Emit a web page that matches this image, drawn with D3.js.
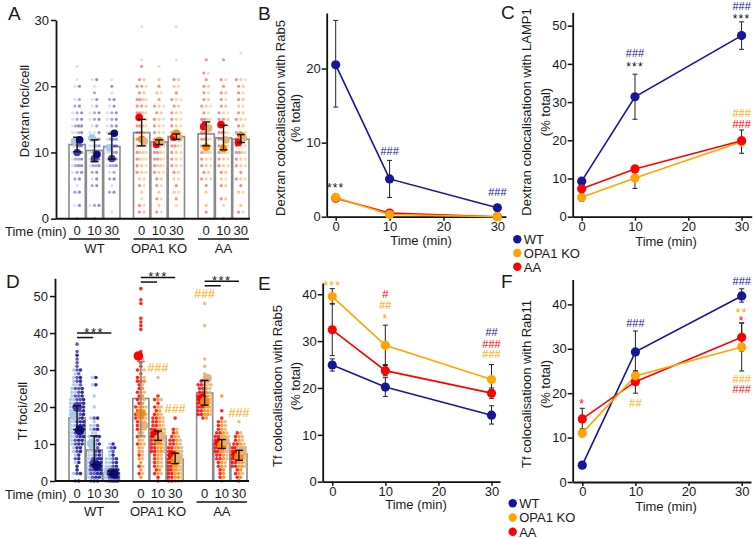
<!DOCTYPE html>
<html>
<head>
<meta charset="utf-8">
<script src="https://cdn.jsdelivr.net/npm/d3@7"></script>
<style>
  body { margin: 0; background: #fff; }
  text { font-family: "Liberation Sans", Arial, Helvetica, sans-serif; fill: #1a1a1a; }
</style>
</head>
<body>
<svg id="fig" width="753" height="538"></svg>
<script>

// ---------- data ----------

var times = [0, 10, 30],
    groups = ["WT", "OPA1 KO", "AA"];

// Panel A: dextran foci per cell, 3 replicates per condition
// WT replicates: light blue, indigo, navy.  OPA1 KO / AA: red, orange, tan
var dexWT0  = [[23,21,20,18,16,15,14,13,13,12,12,11,11,10,10,9,8,7,5,2],
               [18,17,16,15,14,13,12,12,11,10,10,10,9,9,8,7,6,4,0],
               [20,17,16,15,14,14,13,12,12,11,11,10,9,8,8,7,6,4,2]];
var dexWT10 = [[21,20,18,17,16,15,14,13,13,12,12,11,11,10,10,9,8,6,2],
               [19,17,16,15,14,12,11,10,10,9,9,8,8,7,5,2,0],
               [21,18,16,15,13,12,11,10,10,9,9,8,7,6,5,2]];
var dexWT30 = [[21,19,17,16,15,14,13,12,11,11,10,10,9,8,7,5,1],
               [18,16,15,14,13,12,11,10,9,9,8,8,7,6,4],
               [20,18,17,16,15,14,13,13,12,12,11,11,10,9,8,6,4]];
var dexKO0  = [[23,21,20,20,19,18,18,17,17,16,16,15,15,14,14,13,13,12,12,11,10,9,8,7,5,2,1],
               [21,19,18,17,16,15,14,13,12,12,11,11,10,10,9,8,7,6,4,1],
               [29,24,20,18,16,14,13,12,11,10,9,9,8,7,6,5,3,2]];
var dexKO10 = [[20,18,17,16,15,14,13,12,12,11,11,10,10,9,9,8,7,6,5,3,1],
               [21,19,17,16,15,14,13,12,11,10,9,8,8,7,6,4,2],
               [23,19,17,15,14,13,12,11,10,9,8,7,5,3,1]];
var dexKO30 = [[21,19,18,17,16,15,14,13,12,12,11,11,10,9,8,7,5,3],
               [21,20,18,17,16,15,14,13,13,12,11,10,9,8,7,6,4],
               [29,24,20,18,16,15,14,13,12,11,10,9,8,6,4,2]];
var dexAA0  = [[24,22,21,20,19,18,17,16,15,15,14,14,13,13,12,12,11,10,9,8,7,6,5,1],
               [20,18,17,15,14,13,12,11,10,10,9,8,7,6,4,2],
               [22,19,17,16,15,14,13,12,11,10,9,8,6]];
var dexAA10 = [[24,21,20,19,18,17,16,15,15,14,14,13,13,12,12,11,11,10,9,8,7,5,3,0],
               [19,17,16,15,13,12,11,10,10,9,8,7,6,5,3],
               [21,18,16,14,13,12,11,10,9,8,6,2]];
var dexAA30 = [[21,20,19,18,16,15,14,13,12,12,11,10,10,9,8,7,6,5,1],
               [21,20,18,17,16,15,14,13,12,11,10,9,8,6,4,2],
               [25,21,19,17,15,13,12,11,10,9,8,6,4,1]];

var dexCells = [[dexWT0, dexWT10, dexWT30], [dexKO0, dexKO10, dexKO30], [dexAA0, dexAA10, dexAA30]];
var dexBars  = [[11.2, 10.3, 10.9], [13.0, 11.6, 12.4], [12.8, 12.2, 12.0]];
var dexLo    = [[10.1, 8.6, 9.0], [11.0, 11.2, 12.0], [11.0, 10.4, 11.5]];
var dexHi    = [[12.3, 11.9, 12.8], [15.0, 11.9, 12.8], [14.6, 14.1, 12.7]];
var dexRepMeans = [[[11.7,10.0,11.9],[12.2,9.1,9.7],[10.7,9.1,12.9]],
                   [[15.3,12.0,11.7],[11.2,11.8,11.5],[12.3,12.9,12.2]],
                   [[13.9,10.8,13.7],[14.2,10.6,11.9],[11.5,12.6,12.2]]];

// Panel D: Tf foci per cell
var tfWT0  = [[30,29,28,27,26,26,25,24,24,23,22,22,21,21,20,20,19,19,18,18,17,17,16,16,15,15,14,14,13,12,12,11,10,9,8,7,5,2],
              [37,35,33,32,31,30,29,28,27,26,25,25,24,23,23,22,22,21,21,20,20,19,19,18,18,17,16,15,14,13,12,11,10,8,6,2,0],
              [34,30,28,27,25,24,23,22,21,20,19,18,17,16,16,15,15,14,14,13,13,12,12,11,11,10,10,9,9,8,7,6,5,4,3,2,0]];
var tfWT10 = [[28,26,23,20,17,16,15,15,14,13,13,12,12,11,11,10,10,9,9,8,8,7,7,6,6,5,4,3,2,1],
              [17,15,14,12,11,10,9,8,7,6,6,5,5,4,4,3,3,2,2,1,0],
              [28,26,17,14,12,10,8,7,6,6,5,5,4,4,3,3,3,2,2,1,1,0,0]];
var tfWT30 = [[10,9,8,7,6,6,5,5,4,4,3,3,3,2,2,2,1,1,1,0,0],
              [9,8,6,5,4,3,3,2,2,2,1,1,1,0,0],
              [10,9,7,6,5,4,3,3,2,2,1,1,1,0,0,0]];
var tfKO0  = [[52,49,48,44,43,42,41,35,34,33,32,31,30,29,28,27,27,26,25,24,23,22,21,20,19,18,17,16,15,14,12,10,7,4,2],
              [30,28,27,25,24,23,22,21,20,20,19,18,18,17,17,16,15,14,13,12,11,10,9,8,6,5,3,1],
              [33,30,28,26,24,22,20,19,18,17,16,15,14,13,12,11,10,9,8,7,6,4,2]];
var tfKO10 = [[23,22,21,20,19,18,17,17,16,16,15,15,14,14,13,13,12,12,11,11,10,10,9,9,8,8,7,6,5,4,3,2,1,0],
              [22,20,19,18,17,16,15,14,14,13,13,12,12,11,11,10,10,9,9,8,8,7,6,5,4,3,2],
              [28,22,20,18,17,16,15,14,13,12,11,10,9,8,7,6,5,4,2]];
var tfKO30 = [[17,14,13,12,11,11,10,10,9,9,8,8,7,7,7,6,6,6,5,5,5,4,4,3,3,2,2,1,1,0,0],
              [13,12,11,10,9,9,8,8,7,7,6,6,5,5,5,4,4,3,3,2,2,1,1,0,0],
              [14,12,11,10,9,8,8,7,7,6,6,5,5,4,4,3,3,2,1,0]];
var tfAA0  = [[27,26,26,25,25,24,24,23,23,22,22,22,21,21,21,20,20,20,19,19,18,18,17],
              [26,25,24,23,23,22,22,21,21,20,20,19,19,18,18,17],
              [48,42,33,31,29,28,27,27,26,26,25,24,23,22,21,20,19,18]];
var tfAA10 = [[19,17,16,15,14,13,13,12,12,11,11,10,10,10,9,9,8,8,7,7,6,6,5,4,3,2,1],
              [23,16,15,14,13,12,12,11,11,10,10,9,9,8,8,7,6,5,4,3,2,1,0],
              [16,15,14,13,12,11,10,10,9,9,8,8,7,6,5,4]];
var tfAA30 = [[13,12,11,10,10,9,9,8,8,7,7,7,6,6,6,5,5,4,4,3,2,1,0],
              [12,11,10,9,9,8,8,7,7,6,6,5,5,4,4,3,2,1],
              [16,13,12,11,10,9,9,8,8,7,7,6,6,5,4,2]];

var tfCells = [[tfWT0, tfWT10, tfWT30], [tfKO0, tfKO10, tfKO30], [tfAA0, tfAA10, tfAA30]];
var tfBars  = [[17.1, 8.4, 2.2], [22.3, 12.2, 5.9], [23.8, 10.2, 7.3]];
var tfLo    = [[13.9, 4.4, 1.8], [12.2, 11.0, 4.7], [20.5, 8.8, 5.6]];
var tfHi    = [[20.3, 12.2, 2.7], [32.3, 13.5, 7.5], [27.2, 11.2, 8.3]];
var tfRepMeans = [[[17.7,20.0,13.7],[10.1,4.7,4.2],[2.6,2.2,2.0]],
                  [[33.8,18.2,15.0],[12.6,11.2,11.8],[6.9,5.6,6.4]],
                  [[22.3,21.5,27.7],[10.4,9.6,10.9],[7.1,6.5,8.3]]];

// Panel B: dextran colocalisation with Rab5 (% total)
var dexRab5 = {
  "WT":      { v: [20.5, 5.1, 1.2], lo: [14.8, 2.6, 1.0], hi: [26.5, 7.6, 1.4] },
  "OPA1 KO": { v: [2.6, 0.3, 0.0],  lo: [2.3, 0.1, 0.0],  hi: [2.9, 0.5, 0.0] },
  "AA":      { v: [2.5, 0.5, 0.0],  lo: [2.2, 0.2, 0.0],  hi: [2.8, 0.8, 0.0] }
};
// Panel C: dextran colocalisation with LAMP1
var dexLamp1 = {
  "WT":      { v: [9.3, 31.4, 47.4], lo: [8.6, 25.5, 43.8], hi: [10.0, 37.3, 51.0] },
  "OPA1 KO": { v: [5.1, 10.1, 19.6], lo: [4.1, 7.4, 16.6],  hi: [6.2, 12.8, 22.7] },
  "AA":      { v: [7.3, 12.5, 19.9], lo: [6.5, 11.8, 19.3], hi: [8.1, 13.2, 20.5] }
};
// Panel E: Tf colocalisation with Rab5
var tfRab5 = {
  "WT":      { v: [24.9, 20.2, 14.2], lo: [23.6, 18.2, 12.3], hi: [26.2, 22.2, 16.2] },
  "OPA1 KO": { v: [39.5, 29.1, 21.8], lo: [38.0, 24.8, 18.6], hi: [41.2, 33.4, 25.0] },
  "AA":      { v: [32.4, 23.7, 18.9], lo: [26.9, 22.6, 17.8], hi: [37.9, 25.0, 20.0] }
};
// Panel F: Tf colocalisation with Rab11
var tfRab11 = {
  "WT":      { v: [3.8, 29.3, 41.9],  lo: [3.3, 24.7, 40.5],  hi: [4.3, 34.0, 43.5] },
  "OPA1 KO": { v: [11.0, 23.9, 30.4], lo: [10.2, 22.8, 25.0], hi: [11.8, 25.0, 35.8] },
  "AA":      { v: [14.2, 22.6, 32.6], lo: [12.0, 20.0, 29.5], hi: [16.6, 25.0, 35.8] }
};

// ---------- styles ----------

var lineColors = { "WT": "#16169a", "OPA1 KO": "#ffa500", "AA": "#ff0000" };
var repColors = [["#a6c6ea", "#4a3cae", "#0c0c8a"],
                 ["#ff0000", "#ff8a00", "#e2b47c"],
                 ["#ff0000", "#ff8a00", "#e2b47c"]];

var svg = d3.select("#fig");

function label(x, y, txt, size, opts) {
  opts = opts || {};
  var t = svg.append("text").attr("x", x).attr("y", y).text(txt)
    .style("font-size", size + "px")
    .attr("text-anchor", opts.anchor || "start");
  if (opts.color) t.style("fill", opts.color);
  if (opts.rotate) t.attr("transform", "rotate(-90," + x + "," + y + ")");
  if (opts.spacing) t.style("letter-spacing", opts.spacing + "px");
  return t;
}

function styleAxis(ax) {
  ax.select(".domain").attr("stroke", "#111").attr("stroke-width", 1.8);
  ax.selectAll(".tick line").attr("stroke", "#111").attr("stroke-width", 1.5);
  ax.selectAll(".tick text").style("font-size", "13px").style("fill", "#1a1a1a")
    .style("font-family", "'Liberation Sans', Arial, sans-serif");
}

// lay dots out side by side when they share the same integer value
function layoutDots(reps, maxW, step) {
  var all = [];
  reps.forEach(function(arr, r) { arr.forEach(function(v) { all.push({ v: v, r: r }); }); });
  var out = [];
  d3.group(all, function(d) { return d.v; }).forEach(function(list) {
    var k = list.length,
        sp = k > 1 ? Math.min(step, maxW / (k - 1)) : 0;
    list.forEach(function(d, i) { out.push({ v: d.v, r: d.r, dx: (i - (k - 1) / 2) * sp }); });
  });
  return out;
}

// ---------- bar + dot panels (A, D) ----------

function barPanel(cfg) {
  var g = svg.append("g");
  var y = d3.scaleLinear().domain(cfg.yDomain).range([cfg.y0, cfg.yTop]);
  var gx = d3.scaleBand().domain(groups).range(cfg.xRange).paddingInner(0.21).paddingOuter(0);
  var tx = d3.scaleBand().domain(times).range([0, gx.bandwidth()]).paddingInner(0.06);
  function cx(gi, ti) { return gx(groups[gi]) + tx(times[ti]) + tx.bandwidth() / 2; }

  var cells = [];
  groups.forEach(function(grp, gi) {
    times.forEach(function(t, ti) {
      cells.push({ gi: gi, ti: ti, bar: cfg.bars[gi][ti], lo: cfg.lo[gi][ti], hi: cfg.hi[gi][ti],
                   reps: cfg.cells[gi][ti], means: cfg.means[gi][ti] });
    });
  });

  g.selectAll("rect.bar").data(cells).enter().append("rect")
    .attr("class", "bar")
    .attr("x", function(d) { return gx(groups[d.gi]) + tx(times[d.ti]); })
    .attr("y", function(d) { return y(d.bar); })
    .attr("width", tx.bandwidth())
    .attr("height", function(d) { return y(0) - y(d.bar); })
    .attr("fill", "#fff").attr("stroke", "#8a8a8a").attr("stroke-width", 1.6);

  cells.forEach(function(c) {
    var dots = layoutDots(c.reps, cfg.dotW, cfg.dotStep);
    g.selectAll(null).data(dots).enter().append("circle")
      .attr("cx", function(d) { return cx(c.gi, c.ti) + d.dx; })
      .attr("cy", function(d) { return y(d.v); })
      .attr("r", cfg.dotR)
      .attr("fill", function(d) { return repColors[c.gi][d.r]; })
      .attr("opacity", cfg.dotOpacity);
  });

  cells.forEach(function(c) {
    g.selectAll(null).data(c.means).enter().append("circle")
      .attr("cx", function(d, i) { return cx(c.gi, c.ti) + (i - 1) * 2.5; })
      .attr("cy", function(d) { return y(d); })
      .attr("r", cfg.meanR)
      .attr("fill", function(d, i) { return repColors[c.gi][i]; });
  });

  cells.forEach(function(c) {
    var x = cx(c.gi, c.ti),
        col = (cfg.greyErr && cfg.greyErr[0] === c.gi && cfg.greyErr[1] === c.ti) ? "#8a8a8a" : "#111";
    g.append("line").attr("x1", x).attr("x2", x).attr("y1", y(c.lo)).attr("y2", y(c.hi))
      .attr("stroke", col).attr("stroke-width", 1.4);
    [c.lo, c.hi].forEach(function(v) {
      g.append("line").attr("x1", x - 4).attr("x2", x + 4).attr("y1", y(v)).attr("y2", y(v))
        .attr("stroke", col).attr("stroke-width", 1.4);
    });
  });

  // axes
  var ay = g.append("g").attr("transform", "translate(" + cfg.axisX + ",0)")
    .call(d3.axisLeft(y).tickValues(cfg.yTicks).tickSize(5).tickSizeOuter(0).tickPadding(2));
  styleAxis(ay);
  g.append("line").attr("x1", cfg.axisX).attr("x2", cfg.xEnd).attr("y1", cfg.y0).attr("y2", cfg.y0)
    .attr("stroke", "#111").attr("stroke-width", 2);

  // category labels under the bars
  cells.forEach(function(c) {
    label(cx(c.gi, c.ti), cfg.tickY, String(times[c.ti]), 13, { anchor: "middle" });
  });
  groups.forEach(function(grp, gi) {
    var x0 = gx(grp), x1 = gx(grp) + gx.bandwidth();
    g.append("line").attr("x1", x0).attr("x2", x1).attr("y1", cfg.tickY + 4).attr("y2", cfg.tickY + 4)
      .attr("stroke", "#111").attr("stroke-width", 1.5);
    label((x0 + x1) / 2, cfg.tickY + 18, grp, 13, { anchor: "middle" });
  });
  label(5, cfg.tickY + 0.5, "Time (min)", 13);

  return { y: y, cx: cx, g: g };
}

// ---------- line panels (B, C, E, F) ----------

function linePanel(cfg) {
  var g = svg.append("g");
  var x = d3.scaleLinear().domain(cfg.xDomain).range(cfg.xRange);
  var y = d3.scaleLinear().domain([0, cfg.yMax]).range([cfg.y0, cfg.yTop]);

  var ax = g.append("g").attr("transform", "translate(0," + cfg.y0 + ")")
    .call(d3.axisBottom(x).tickValues([0, 10, 20, 30]).tickSize(4).tickSizeOuter(0).tickPadding(1));
  styleAxis(ax);
  var ay = g.append("g").attr("transform", "translate(" + cfg.xRange[0] + ",0)")
    .call(d3.axisLeft(y).tickValues(cfg.yTicks).tickSize(5).tickSizeOuter(0).tickPadding(1));
  styleAxis(ay);

  var line = d3.line().x(function(d, i) { return x(times[i]); }).y(function(d) { return y(d); });

  cfg.order.forEach(function(k) {
    var s = cfg.data[k];
    g.append("path").datum(s.v).attr("d", line)
      .attr("fill", "none").attr("stroke", lineColors[k]).attr("stroke-width", 1.6);
  });
  cfg.order.forEach(function(k) {
    var s = cfg.data[k];
    times.forEach(function(t, i) {
      if (s.hi[i] - s.lo[i] < 0.05) return;
      var px = x(t);
      g.append("line").attr("x1", px).attr("x2", px).attr("y1", y(s.lo[i])).attr("y2", y(s.hi[i]))
        .attr("stroke", "#222").attr("stroke-width", 1);
      [s.lo[i], s.hi[i]].forEach(function(v) {
        g.append("line").attr("x1", px - 2.5).attr("x2", px + 2.5).attr("y1", y(v)).attr("y2", y(v))
          .attr("stroke", "#222").attr("stroke-width", 1);
      });
    });
  });
  cfg.order.forEach(function(k) {
    var s = cfg.data[k];
    g.selectAll(null).data(s.v).enter().append("circle")
      .attr("cx", function(d, i) { return x(times[i]); })
      .attr("cy", function(d) { return y(d); })
      .attr("r", 4.6)
      .attr("fill", lineColors[k]);
  });

  label(cfg.xTitle[0], cfg.xTitle[1], "Time (min)", 13, { anchor: "middle" });
  label(cfg.yTitle[0], cfg.yTitle[2], cfg.yLines[0], 13, { anchor: "middle", rotate: true });
  label(cfg.yTitle[1], cfg.yTitle[2], cfg.yLines[1], 13, { anchor: "middle", rotate: true });

  (cfg.marks || []).forEach(function(m) {
    var star = m[2].indexOf("*") >= 0;
    label(x(m[0]), y(m[1]) + (star ? 7.5 : 4), m[2], star ? 12 : 11,
      { anchor: "middle", color: m[3], spacing: star ? 1.2 : 0 });
  });
  return { x: x, y: y };
}

function legend(x, y0, dy) {
  groups.forEach(function(grp, i) {
    svg.append("circle").attr("cx", x).attr("cy", y0 + i * dy).attr("r", 4.2).attr("fill", lineColors[grp]);
    label(x + 6.5, y0 + i * dy + 4.8, grp, 13);
  });
}

// ---------- draw ----------

var A = barPanel({
  yDomain: [0, 30], y0: 218.7, yTop: 20, yTicks: [0, 10, 20, 30],
  xRange: [69, 249], axisX: 56, xEnd: 250,
  bars: dexBars, lo: dexLo, hi: dexHi, cells: dexCells, means: dexRepMeans,
  dotR: 1.6, dotW: 9, dotStep: 4.5, dotOpacity: 0.45, meanR: 3.8, tickY: 235
});
label(29, 111, "Dextran foci/cell", 13, { anchor: "middle", rotate: true });

var D = barPanel({
  yDomain: [0, 54.8], y0: 481, yTop: 278.3, yTicks: [0, 10, 20, 30, 40, 50],
  xRange: [69, 247], axisX: 55, xEnd: 249,
  bars: tfBars, lo: tfLo, hi: tfHi, cells: tfCells, means: tfRepMeans,
  dotR: 1.8, dotW: 13, dotStep: 3.4, dotOpacity: 0.85, meanR: 4.8, tickY: 498, greyErr: [1, 0]
});
label(27, 411, "Tf foci/cell", 13, { anchor: "middle", rotate: true });

// significance brackets in D (0 vs 10 and 0 vs 30 within each genotype)
[[0, 40], [1, 55], [2, 54]].forEach(function(b) {
  var gi = b[0], yl = D.y(b[1]);
  var x0 = D.cx(gi, 0), x10 = D.cx(gi, 1), x30 = D.cx(gi, 2);
  D.g.append("line").attr("x1", x0).attr("x2", x30).attr("y1", yl).attr("y2", yl)
    .attr("stroke", "#111").attr("stroke-width", 1.5);
  D.g.append("line").attr("x1", x0).attr("x2", x10 - 1).attr("y1", yl + 4.5).attr("y2", yl + 4.5)
    .attr("stroke", "#111").attr("stroke-width", 1.5);
  label(x10, yl + 3.5, "***", 13, { anchor: "middle", spacing: 1.5 });
});
// OPA1 KO vs WT markers in D
[[1, 1, 30.6], [1, 2, 19.6], [2, 0, 50.7], [2, 2, 18.5]].forEach(function(m) {
  label(D.cx(m[0], m[1]), D.y(m[2]) + 4.5, "###", 12.5, { anchor: "middle", color: "#ffa500" });
});

linePanel({
  data: dexRab5, order: ["WT", "AA", "OPA1 KO"],
  xDomain: [-1.67, 31.6], xRange: [326.7, 506], yMax: 27.5, y0: 216.7, yTop: 13, yTicks: [0, 10, 20],
  xTitle: [421, 244.5], yTitle: [285, 300, 118],
  yLines: ["Dextran colocalisatioon with Rab5", "(% total)"],
  marks: [[0, 4.3, "***", "#111"], [10, 8.9, "###", "#16169a"], [30, 3.4, "###", "#16169a"]]
});

linePanel({
  data: dexLamp1, order: ["WT", "OPA1 KO", "AA"],
  xDomain: [-1.69, 31.9], xRange: [572.7, 751.7], yMax: 53.5, y0: 216.7, yTop: 12.3, yTicks: [0, 10, 20, 30, 40, 50],
  xTitle: [666, 245.5], yTitle: [531, 549.5, 112],
  yLines: ["Dextran colocalisatioon with LAMP1", "(% total)"],
  marks: [[10, 42.9, "###", "#16169a"], [10, 40.2, "***", "#111"],
          [30, 55.2, "###", "#16169a"], [30, 52.6, "***", "#111"],
          [30, 27.1, "###", "#ffa500"], [30, 24.2, "###", "#ff0000"]]
});
legend(517.3, 239.3, 13.7);

linePanel({
  data: tfRab5, order: ["WT", "AA", "OPA1 KO"],
  xDomain: [-1.8, 31.6], xRange: [322.7, 500], yMax: 42.4, y0: 481.7, yTop: 283, yTicks: [0, 10, 20, 30, 40],
  xTitle: [416, 509], yTitle: [281.7, 299.5, 386],
  yLines: ["Tf colocalisatioon with Rab5", "(% total)"],
  marks: [[0, 42.6, "***", "#ffa500"],
          [10, 40.0, "#", "#ff0000"], [10, 37.7, "##", "#ffa500"], [10, 35.4, "*", "#ffa500"],
          [30, 32.0, "##", "#16169a"], [30, 29.4, "###", "#ff0000"], [30, 27.2, "###", "#ffa500"]]
});

linePanel({
  data: tfRab11, order: ["WT", "AA", "OPA1 KO"],
  xDomain: [-1.8, 31.75], xRange: [572.7, 751], yMax: 45.6, y0: 482, yTop: 279.5, yTicks: [0, 10, 20, 30, 40],
  xTitle: [666, 510.5], yTitle: [531, 549.5, 384],
  yLines: ["Tf colocalisatioon with Rab11", "(% total)"],
  marks: [[0, 18.3, "*", "#ff0000"],
          [10, 35.9, "###", "#16169a"], [10, 17.9, "##", "#ffa500"],
          [30, 45.3, "###", "#16169a"], [30, 38.9, "**", "#ffa500"], [30, 37.1, "*", "#ff0000"],
          [30, 23.2, "###", "#ffa500"], [30, 20.9, "###", "#ff0000"]]
});
legend(512.7, 503.3, 14.2);

// panel letters
[["A", 8, 20], ["B", 258, 20], ["C", 501, 19], ["D", 6, 288], ["E", 258, 290], ["F", 501, 288]]
  .forEach(function(p) { label(p[1], p[2], p[0], 19); });

</script>
</body>
</html>
